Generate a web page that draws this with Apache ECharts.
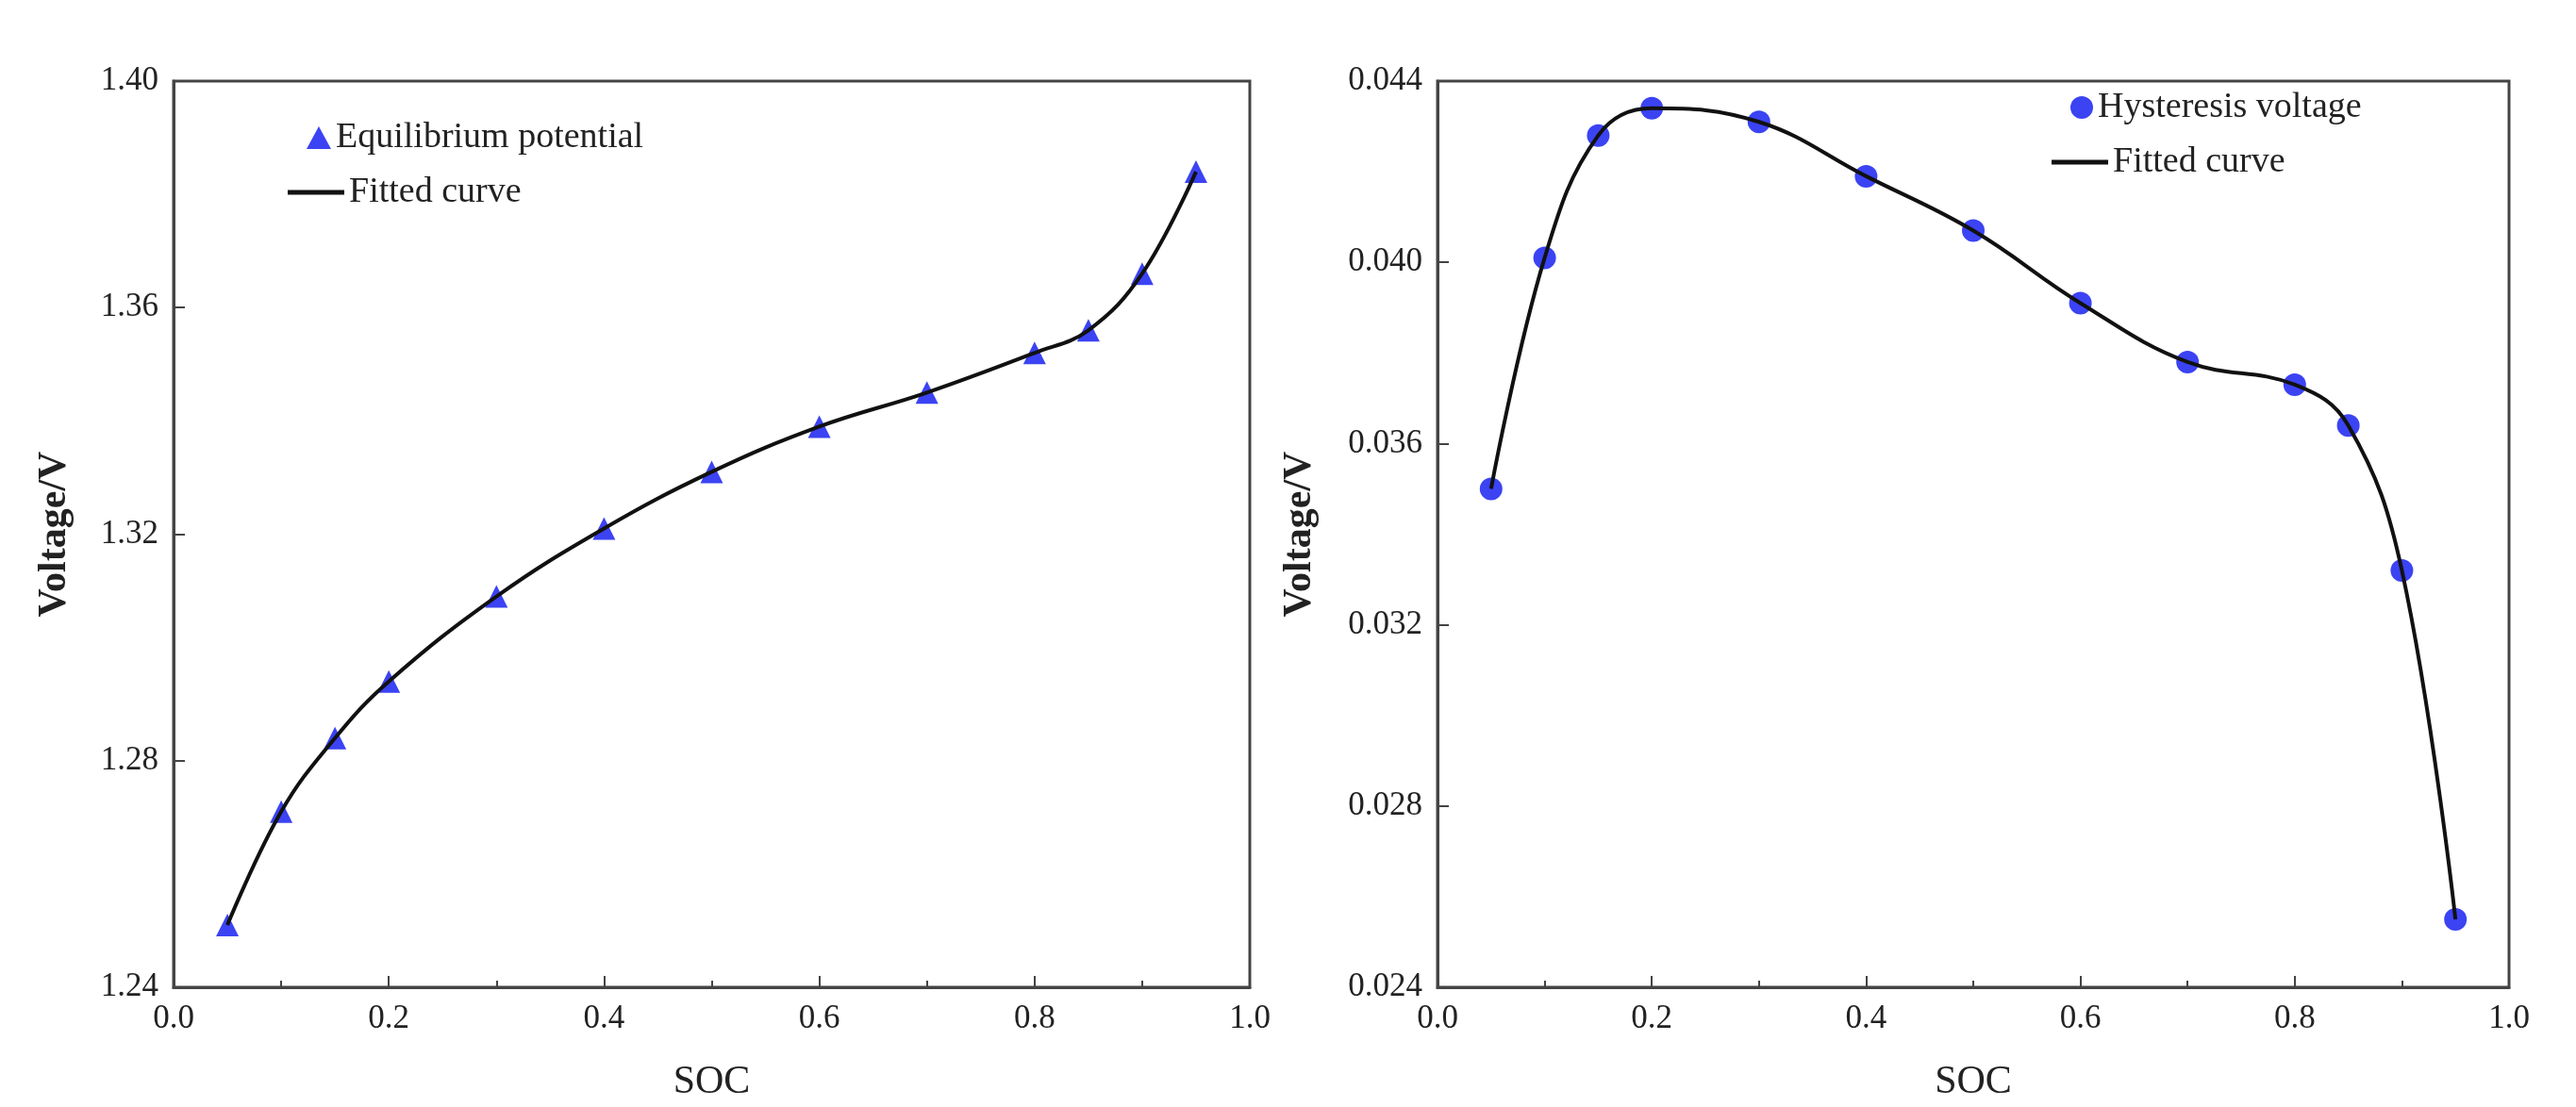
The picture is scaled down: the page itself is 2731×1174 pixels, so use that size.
<!DOCTYPE html><html><head><meta charset="utf-8"><script src="https://cdn.jsdelivr.net/npm/echarts@6/dist/echarts.min.js"></script></head><body style="margin:0"><div id="c" style="width:2731px;height:1174px"></div><script>
const soc=[0.05,0.1,0.15,0.2,0.3,0.4,0.5,0.6,0.7,0.8,0.85,0.9,0.95];
const eqPot=[1.251,1.271,1.284,1.294,1.309,1.321,1.331,1.339,1.345,1.352,1.356,1.366,1.384];
const hyst=[0.0350,0.0401,0.0428,0.0434,0.0431,0.0419,0.0407,0.0391,0.0378,0.0373,0.0364,0.0332,0.0255];
const F='Liberation Serif';
const pair=(y)=>soc.map((x,i)=>[x,y[i]]);
function xa(i){return {type:'value',gridIndex:i,min:0,max:1,interval:0.2,name:'SOC',nameLocation:'middle',nameGap:80,
 nameTextStyle:{fontFamily:F,fontSize:42,color:'#222'},axisLine:{lineStyle:{color:'#444',width:3}},
 axisTick:{inside:true,length:12,lineStyle:{width:2}},minorTick:{show:true,splitNumber:2,length:7,lineStyle:{color:'#444',width:2}},
 axisLabel:{fontFamily:F,fontSize:35,color:'#222',margin:16,formatter:v=>v.toFixed(1)},splitLine:{show:false}};}
function ya(i,min,max,int,d){return {type:'value',gridIndex:i,min,max,interval:int,name:'Voltage/V',nameLocation:'middle',nameGap:d===2?105:125,
 nameTextStyle:{fontFamily:F,fontSize:42,color:'#222',fontWeight:'bold'},axisLine:{lineStyle:{color:'#444',width:3}},
 axisTick:{inside:true,length:12,lineStyle:{width:2}},
 axisLabel:{fontFamily:F,fontSize:35,color:'#222',margin:16,formatter:v=>v.toFixed(d)},splitLine:{show:false}};}
const T={fontFamily:F,fontSize:38,color:'#222'};
const chart=echarts.init(document.getElementById('c'));
chart.setOption({animation:false,backgroundColor:'#fff',
grid:[{left:184,top:86,width:1141,height:1006,show:true,borderColor:'#444',borderWidth:3},
      {left:1524,top:86,width:1136,height:1006,show:true,borderColor:'#444',borderWidth:3}],
xAxis:[xa(0),xa(1)],
yAxis:[ya(0,1.24,1.40,0.04,2),ya(1,0.024,0.044,0.004,3)],
legend:[{left:320,top:122,itemWidth:26,itemHeight:24,itemGap:10,textStyle:T,data:[{name:'Equilibrium potential',icon:'triangle'}]},
        {left:300,top:180,itemWidth:60,itemHeight:5,itemGap:4,textStyle:T,data:[{name:'Fitted curve ',icon:'rect'}]},
        {left:2190,top:90,itemWidth:24,itemHeight:24,itemGap:18,textStyle:T,data:[{name:'Hysteresis voltage',icon:'circle'}]},
        {left:2170,top:148,itemWidth:60,itemHeight:5,itemGap:4,textStyle:T,data:[{name:'Fitted curve',icon:'rect'}]}],
series:[
{name:'Fitted curve ',type:'line',xAxisIndex:0,yAxisIndex:0,data:pair(eqPot),smooth:0.4,showSymbol:false,symbol:'none',lineStyle:{color:'#111',width:4},itemStyle:{color:'#111'}},
{name:'Equilibrium potential',type:'scatter',xAxisIndex:0,yAxisIndex:0,data:pair(eqPot),symbol:'triangle',symbolSize:24,itemStyle:{color:'#0a14f0'}},
{name:'Fitted curve',type:'line',xAxisIndex:1,yAxisIndex:1,data:pair(hyst),smooth:0.4,showSymbol:false,symbol:'none',lineStyle:{color:'#111',width:4},itemStyle:{color:'#111'}},
{name:'Hysteresis voltage',type:'scatter',xAxisIndex:1,yAxisIndex:1,data:pair(hyst),symbol:'circle',symbolSize:24,itemStyle:{color:'#0a14f0'}}
]});
</script></body></html>
